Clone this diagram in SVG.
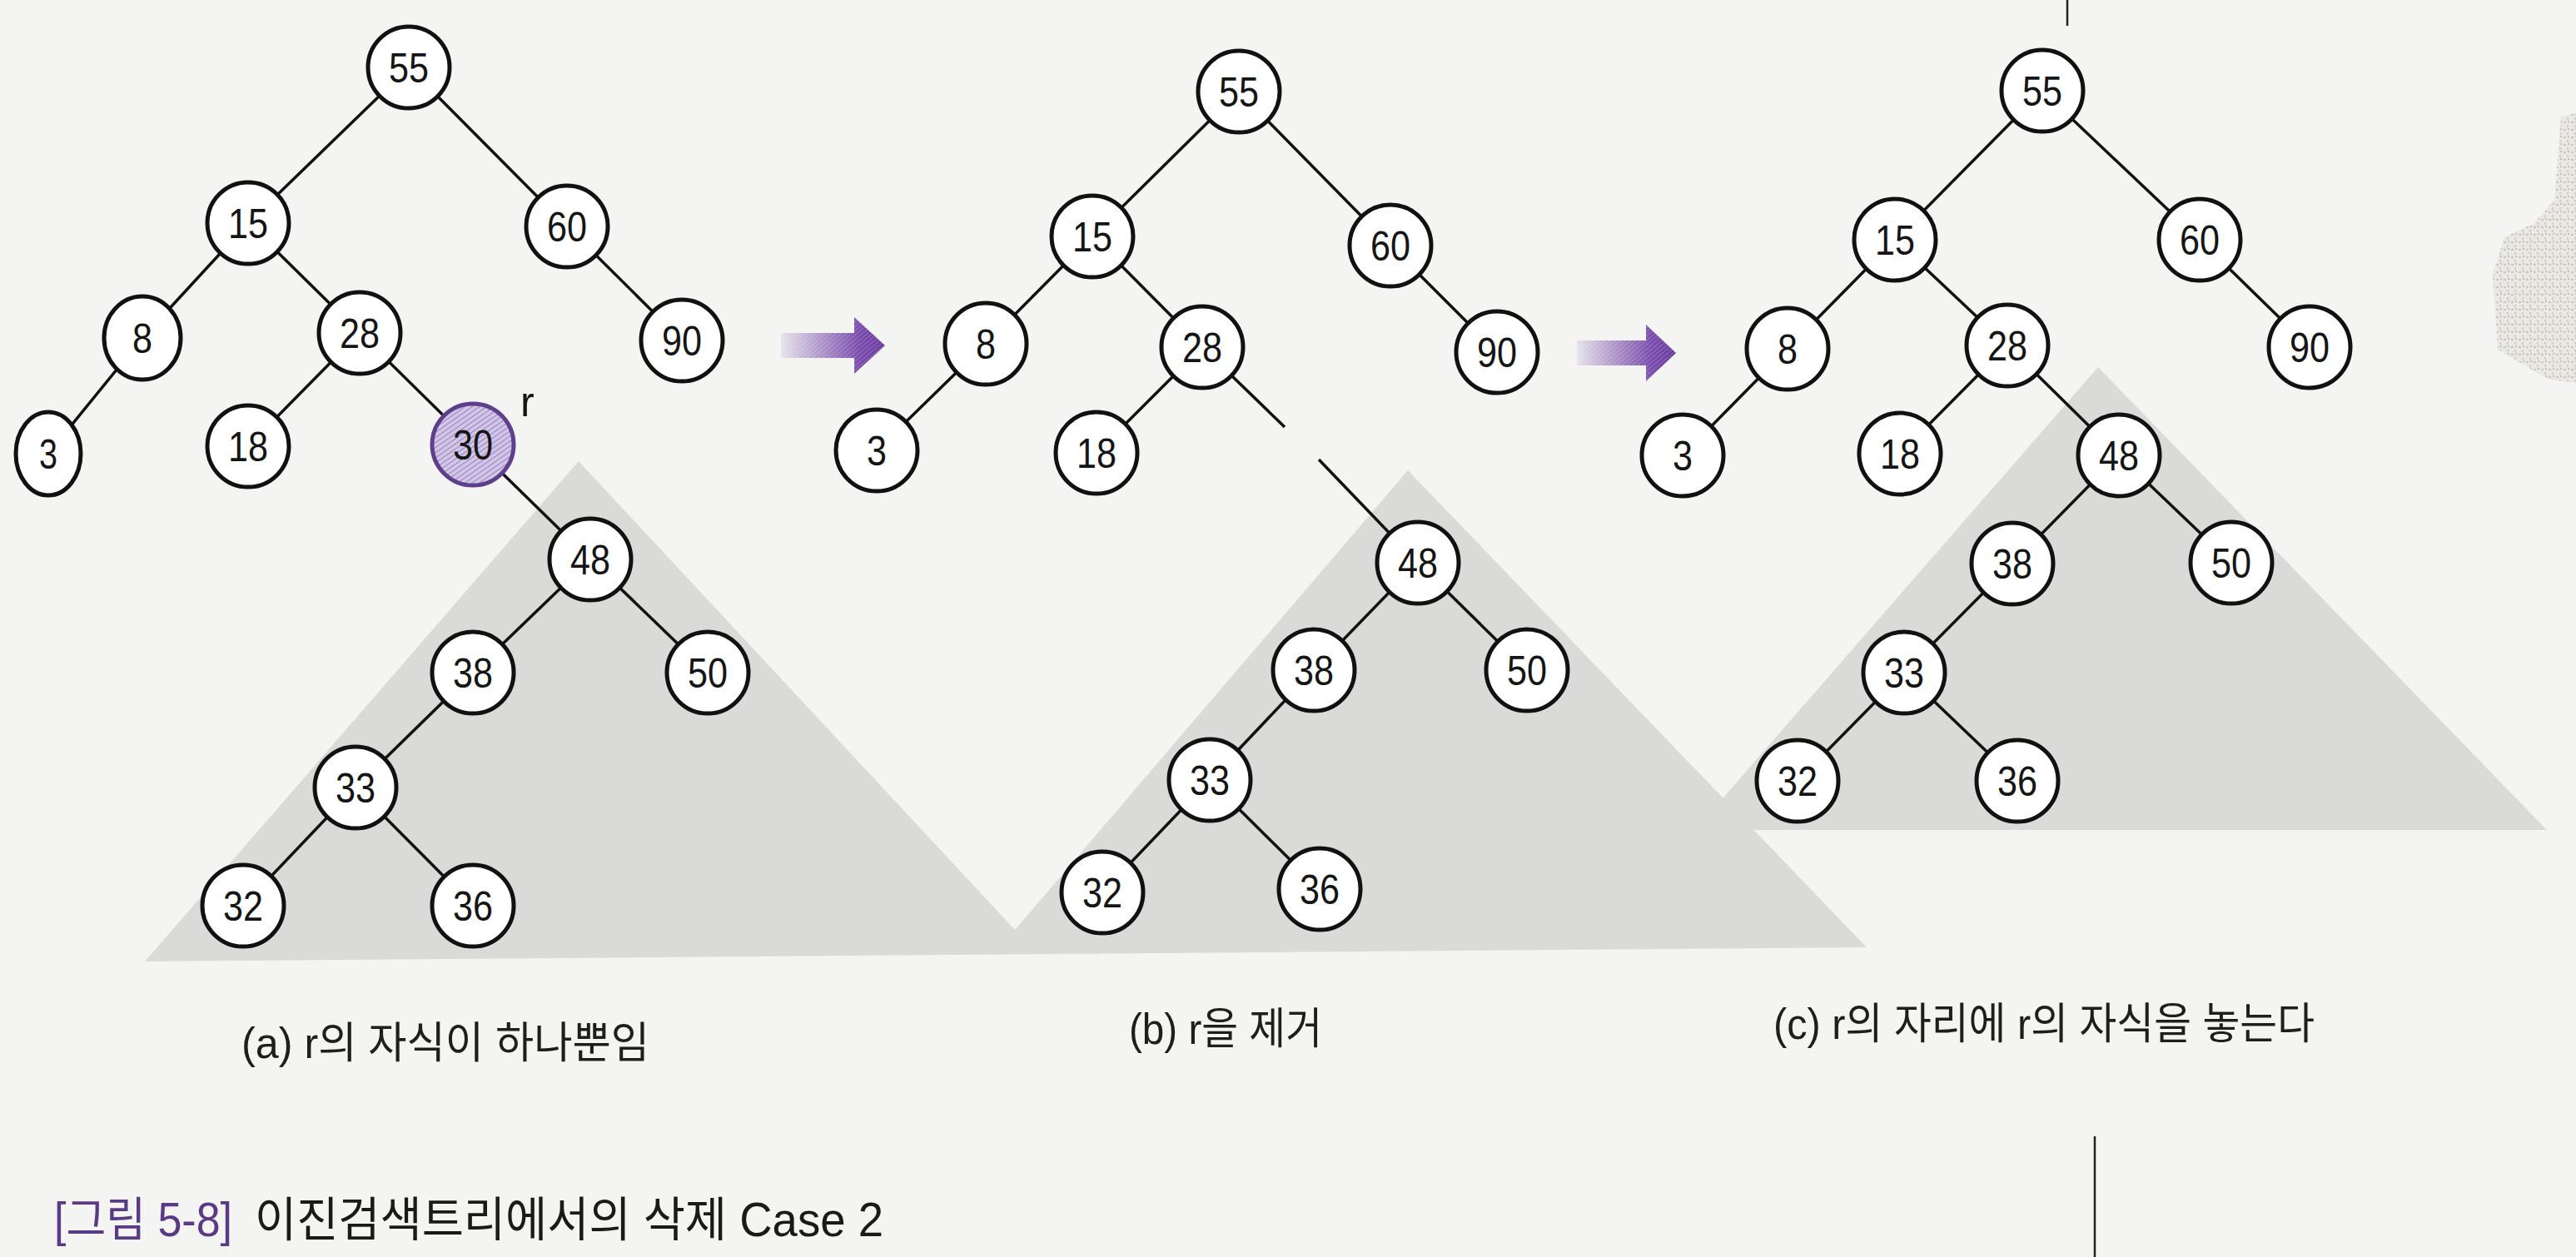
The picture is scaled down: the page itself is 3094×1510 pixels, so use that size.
<svg xmlns="http://www.w3.org/2000/svg" width="3094" height="1510" viewBox="0 0 3094 1510">
  <defs>
    <style>
      .node circle, .node ellipse { fill: #ffffff; stroke: #111111; stroke-width: 5; }
      .node text { font-family: "Liberation Sans", Arial, sans-serif; font-size: 50px; fill: #151515; text-anchor: middle; }
      .edges line { stroke: #111111; stroke-width: 3.5; stroke-linecap: butt; }
      .sub { fill: #dadad9; }
      .cap { font-family: "Liberation Sans", "Noto Sans CJK KR", sans-serif; font-size: 52px; fill: #1e1e1e; }
      .fig { font-family: "Liberation Sans", "Noto Sans CJK KR", sans-serif; font-size: 57px; fill: #1a1a1a; }
      .rule { stroke: #222222; stroke-width: 2.5; }
    </style>
    <pattern id="hatch" patternUnits="userSpaceOnUse" width="5" height="5" patternTransform="rotate(-35)">
      <rect width="5" height="5" fill="#d2c6e6"/>
      <line x1="0" y1="0" x2="5" y2="0" stroke="#8a6db5" stroke-width="1.6"/>
    </pattern>
    <linearGradient id="arrowGrad" x1="0" y1="0" x2="1" y2="0">
      <stop offset="0" stop-color="#e6e2ea"/>
      <stop offset="0.35" stop-color="#b39ccc"/>
      <stop offset="0.75" stop-color="#7a4cae"/>
      <stop offset="1" stop-color="#6a3a9e"/>
    </linearGradient>
    <pattern id="arrowHatch" patternUnits="userSpaceOnUse" width="4" height="4" patternTransform="rotate(-40)">
      <line x1="0" y1="0" x2="4" y2="0" stroke="#ffffff" stroke-opacity="0.35" stroke-width="1.2"/>
    </pattern>
    <pattern id="speckle" patternUnits="userSpaceOnUse" width="9" height="9">
      <rect width="9" height="9" fill="#e4e0da"/>
      <rect x="1" y="2" width="3" height="2" fill="#aca69e"/>
      <rect x="5" y="6" width="2" height="3" fill="#bcb6ae"/>
      <rect x="6" y="1" width="2" height="2" fill="#a49e95"/>
    </pattern>
  </defs>

  <!-- paper -->
  <rect x="0" y="0" width="3094" height="1510" fill="#f4f4f2"/>

  <!-- scan artifacts: page rules and right-edge speckle -->
  <g id="page-artifacts">
    <line class="rule" x1="2483" y1="0" x2="2483" y2="31"/>
    <line class="rule" x1="2516" y1="1365" x2="2516" y2="1510"/>
    <polygon points="3076,140 3094,136 3094,460 3062,456 3034,440 3000,420 2994,330 3008,285 3044,268 3068,240" fill="url(#speckle)" opacity="0.6"/>
  </g>

  <!-- shaded subtrees -->
  <g id="subtrees">
    <polygon class="sub" points="174,1155 695,554 1219,1117 1691,565 2242,1138"/>
    <polygon class="sub" points="2036,997 2520,441 3059,997"/>
  </g>

  <!-- arrows between stages -->
  <g id="arrows">
    <g id="arrow-ab">
      <polygon points="938,400 1026,400 1026,381 1063,415 1026,449 1026,430 938,430" fill="url(#arrowGrad)"/>
      <polygon points="938,400 1026,400 1026,381 1063,415 1026,449 1026,430 938,430" fill="url(#arrowHatch)"/>
    </g>
    <g id="arrow-bc">
      <polygon points="1894,409 1977,409 1977,390 2013,424 1977,458 1977,439 1894,439" fill="url(#arrowGrad)"/>
      <polygon points="1894,409 1977,409 1977,390 2013,424 1977,458 1977,439 1894,439" fill="url(#arrowHatch)"/>
    </g>
  </g>

  <!-- connectors -->
  <g id="connectors" class="edges">
    <!-- (a) -->
    <line x1="491" y1="81" x2="298" y2="268"/>
    <line x1="491" y1="81" x2="681" y2="272"/>
    <line x1="298" y1="268" x2="171" y2="406"/>
    <line x1="298" y1="268" x2="432" y2="400"/>
    <line x1="681" y1="272" x2="819" y2="409"/>
    <line x1="171" y1="406" x2="58" y2="545"/>
    <line x1="432" y1="400" x2="298" y2="536"/>
    <line x1="432" y1="400" x2="568" y2="534"/>
    <line x1="568" y1="534" x2="709" y2="672"/>
    <line x1="709" y1="672" x2="568" y2="808"/>
    <line x1="709" y1="672" x2="850" y2="808"/>
    <line x1="568" y1="808" x2="427" y2="946"/>
    <line x1="427" y1="946" x2="292" y2="1088"/>
    <line x1="427" y1="946" x2="568" y2="1088"/>
    <!-- (b) -->
    <line x1="1488" y1="110" x2="1312" y2="284"/>
    <line x1="1488" y1="110" x2="1670" y2="295"/>
    <line x1="1312" y1="284" x2="1184" y2="413"/>
    <line x1="1312" y1="284" x2="1444" y2="417"/>
    <line x1="1670" y1="295" x2="1798" y2="423"/>
    <line x1="1184" y1="413" x2="1053" y2="541"/>
    <line x1="1444" y1="417" x2="1317" y2="544"/>
    <line x1="1444" y1="417" x2="1543" y2="513"/>
    <line x1="1584" y1="552" x2="1703" y2="676"/>
    <line x1="1703" y1="676" x2="1578" y2="805"/>
    <line x1="1703" y1="676" x2="1834" y2="805"/>
    <line x1="1578" y1="805" x2="1453" y2="937"/>
    <line x1="1453" y1="937" x2="1324" y2="1072"/>
    <line x1="1453" y1="937" x2="1585" y2="1068"/>
    <!-- (c) -->
    <line x1="2453" y1="109" x2="2276" y2="288"/>
    <line x1="2453" y1="109" x2="2642" y2="288"/>
    <line x1="2276" y1="288" x2="2147" y2="419"/>
    <line x1="2276" y1="288" x2="2411" y2="415"/>
    <line x1="2642" y1="288" x2="2774" y2="417"/>
    <line x1="2147" y1="419" x2="2021" y2="547"/>
    <line x1="2411" y1="415" x2="2282" y2="545"/>
    <line x1="2411" y1="415" x2="2545" y2="547"/>
    <line x1="2545" y1="547" x2="2417" y2="677"/>
    <line x1="2545" y1="547" x2="2680" y2="676"/>
    <line x1="2417" y1="677" x2="2287" y2="808"/>
    <line x1="2287" y1="808" x2="2159" y2="938"/>
    <line x1="2287" y1="808" x2="2423" y2="938"/>
  </g>

  <!-- (a) nodes -->
  <g id="a-n55" class="node"><circle cx="491" cy="81" r="49"/><text x="491" y="99" textLength="48" lengthAdjust="spacingAndGlyphs">55</text></g>
  <g id="a-n15" class="node"><circle cx="298" cy="268" r="49"/><text x="298" y="286" textLength="48" lengthAdjust="spacingAndGlyphs">15</text></g>
  <g id="a-n60" class="node"><circle cx="681" cy="272" r="49"/><text x="681" y="290" textLength="48" lengthAdjust="spacingAndGlyphs">60</text></g>
  <g id="a-n8" class="node"><ellipse cx="171" cy="406" rx="46" ry="50"/><text x="171" y="424" textLength="24" lengthAdjust="spacingAndGlyphs">8</text></g>
  <g id="a-n28" class="node"><circle cx="432" cy="400" r="49"/><text x="432" y="418" textLength="48" lengthAdjust="spacingAndGlyphs">28</text></g>
  <g id="a-n90" class="node"><circle cx="819" cy="409" r="49"/><text x="819" y="427" textLength="48" lengthAdjust="spacingAndGlyphs">90</text></g>
  <g id="a-n3" class="node"><ellipse cx="58" cy="545" rx="39" ry="50"/><text x="58" y="563" textLength="22" lengthAdjust="spacingAndGlyphs">3</text></g>
  <g id="a-n18" class="node"><circle cx="298" cy="536" r="49"/><text x="298" y="554" textLength="48" lengthAdjust="spacingAndGlyphs">18</text></g>
  <g id="a-n30" class="node"><circle cx="568" cy="534" r="49" style="fill:url(#hatch);stroke:#5e3f8c"/><text x="568" y="552" textLength="48" lengthAdjust="spacingAndGlyphs">30</text></g>
  <g id="a-r-label"><text x="625" y="500" style="font-family:'Liberation Sans',Arial,sans-serif;font-size:50px;fill:#151515">r</text></g>
  <g id="a-n48" class="node"><circle cx="709" cy="672" r="49"/><text x="709" y="690" textLength="48" lengthAdjust="spacingAndGlyphs">48</text></g>
  <g id="a-n38" class="node"><circle cx="568" cy="808" r="49"/><text x="568" y="826" textLength="48" lengthAdjust="spacingAndGlyphs">38</text></g>
  <g id="a-n50" class="node"><circle cx="850" cy="808" r="49"/><text x="850" y="826" textLength="48" lengthAdjust="spacingAndGlyphs">50</text></g>
  <g id="a-n33" class="node"><circle cx="427" cy="946" r="49"/><text x="427" y="964" textLength="48" lengthAdjust="spacingAndGlyphs">33</text></g>
  <g id="a-n32" class="node"><circle cx="292" cy="1088" r="49"/><text x="292" y="1106" textLength="48" lengthAdjust="spacingAndGlyphs">32</text></g>
  <g id="a-n36" class="node"><circle cx="568" cy="1088" r="49"/><text x="568" y="1106" textLength="48" lengthAdjust="spacingAndGlyphs">36</text></g>

  <!-- (b) nodes -->
  <g id="b-n55" class="node"><circle cx="1488" cy="110" r="49"/><text x="1488" y="128" textLength="48" lengthAdjust="spacingAndGlyphs">55</text></g>
  <g id="b-n15" class="node"><circle cx="1312" cy="284" r="49"/><text x="1312" y="302" textLength="48" lengthAdjust="spacingAndGlyphs">15</text></g>
  <g id="b-n60" class="node"><circle cx="1670" cy="295" r="49"/><text x="1670" y="313" textLength="48" lengthAdjust="spacingAndGlyphs">60</text></g>
  <g id="b-n8" class="node"><circle cx="1184" cy="413" r="49"/><text x="1184" y="431" textLength="24" lengthAdjust="spacingAndGlyphs">8</text></g>
  <g id="b-n28" class="node"><circle cx="1444" cy="417" r="49"/><text x="1444" y="435" textLength="48" lengthAdjust="spacingAndGlyphs">28</text></g>
  <g id="b-n90" class="node"><circle cx="1798" cy="423" r="49"/><text x="1798" y="441" textLength="48" lengthAdjust="spacingAndGlyphs">90</text></g>
  <g id="b-n3" class="node"><circle cx="1053" cy="541" r="49"/><text x="1053" y="559" textLength="24" lengthAdjust="spacingAndGlyphs">3</text></g>
  <g id="b-n18" class="node"><circle cx="1317" cy="544" r="49"/><text x="1317" y="562" textLength="48" lengthAdjust="spacingAndGlyphs">18</text></g>
  <g id="b-n48" class="node"><circle cx="1703" cy="676" r="49"/><text x="1703" y="694" textLength="48" lengthAdjust="spacingAndGlyphs">48</text></g>
  <g id="b-n38" class="node"><circle cx="1578" cy="805" r="49"/><text x="1578" y="823" textLength="48" lengthAdjust="spacingAndGlyphs">38</text></g>
  <g id="b-n50" class="node"><circle cx="1834" cy="805" r="49"/><text x="1834" y="823" textLength="48" lengthAdjust="spacingAndGlyphs">50</text></g>
  <g id="b-n33" class="node"><circle cx="1453" cy="937" r="49"/><text x="1453" y="955" textLength="48" lengthAdjust="spacingAndGlyphs">33</text></g>
  <g id="b-n32" class="node"><circle cx="1324" cy="1072" r="49"/><text x="1324" y="1090" textLength="48" lengthAdjust="spacingAndGlyphs">32</text></g>
  <g id="b-n36" class="node"><circle cx="1585" cy="1068" r="49"/><text x="1585" y="1086" textLength="48" lengthAdjust="spacingAndGlyphs">36</text></g>

  <!-- (c) nodes -->
  <g id="c-n55" class="node"><circle cx="2453" cy="109" r="49"/><text x="2453" y="127" textLength="48" lengthAdjust="spacingAndGlyphs">55</text></g>
  <g id="c-n15" class="node"><circle cx="2276" cy="288" r="49"/><text x="2276" y="306" textLength="48" lengthAdjust="spacingAndGlyphs">15</text></g>
  <g id="c-n60" class="node"><circle cx="2642" cy="288" r="49"/><text x="2642" y="306" textLength="48" lengthAdjust="spacingAndGlyphs">60</text></g>
  <g id="c-n8" class="node"><circle cx="2147" cy="419" r="49"/><text x="2147" y="437" textLength="24" lengthAdjust="spacingAndGlyphs">8</text></g>
  <g id="c-n28" class="node"><circle cx="2411" cy="415" r="49"/><text x="2411" y="433" textLength="48" lengthAdjust="spacingAndGlyphs">28</text></g>
  <g id="c-n90" class="node"><circle cx="2774" cy="417" r="49"/><text x="2774" y="435" textLength="48" lengthAdjust="spacingAndGlyphs">90</text></g>
  <g id="c-n3" class="node"><circle cx="2021" cy="547" r="49"/><text x="2021" y="565" textLength="24" lengthAdjust="spacingAndGlyphs">3</text></g>
  <g id="c-n18" class="node"><circle cx="2282" cy="545" r="49"/><text x="2282" y="563" textLength="48" lengthAdjust="spacingAndGlyphs">18</text></g>
  <g id="c-n48" class="node"><circle cx="2545" cy="547" r="49"/><text x="2545" y="565" textLength="48" lengthAdjust="spacingAndGlyphs">48</text></g>
  <g id="c-n38" class="node"><circle cx="2417" cy="677" r="49"/><text x="2417" y="695" textLength="48" lengthAdjust="spacingAndGlyphs">38</text></g>
  <g id="c-n50" class="node"><circle cx="2680" cy="676" r="49"/><text x="2680" y="694" textLength="48" lengthAdjust="spacingAndGlyphs">50</text></g>
  <g id="c-n33" class="node"><circle cx="2287" cy="808" r="49"/><text x="2287" y="826" textLength="48" lengthAdjust="spacingAndGlyphs">33</text></g>
  <g id="c-n32" class="node"><circle cx="2159" cy="938" r="49"/><text x="2159" y="956" textLength="48" lengthAdjust="spacingAndGlyphs">32</text></g>
  <g id="c-n36" class="node"><circle cx="2423" cy="938" r="49"/><text x="2423" y="956" textLength="48" lengthAdjust="spacingAndGlyphs">36</text></g>

  <!-- captions -->
  <g id="captions">
    <text class="cap" x="290" y="1271" textLength="490" lengthAdjust="spacingAndGlyphs">(a) r의 자식이 하나뿐임</text>
    <text class="cap" x="1356" y="1254" textLength="232" lengthAdjust="spacingAndGlyphs">(b) r을 제거</text>
    <text class="cap" x="2130" y="1248" textLength="650" lengthAdjust="spacingAndGlyphs">(c) r의 자리에 r의 자식을 놓는다</text>
    <text class="fig" x="65" y="1485" textLength="214" lengthAdjust="spacingAndGlyphs" style="fill:#5a3a86">[그림 5-8]</text>
    <text class="fig" x="306" y="1485" textLength="755" lengthAdjust="spacingAndGlyphs">이진검색트리에서의 삭제 Case 2</text>
  </g>
</svg>
